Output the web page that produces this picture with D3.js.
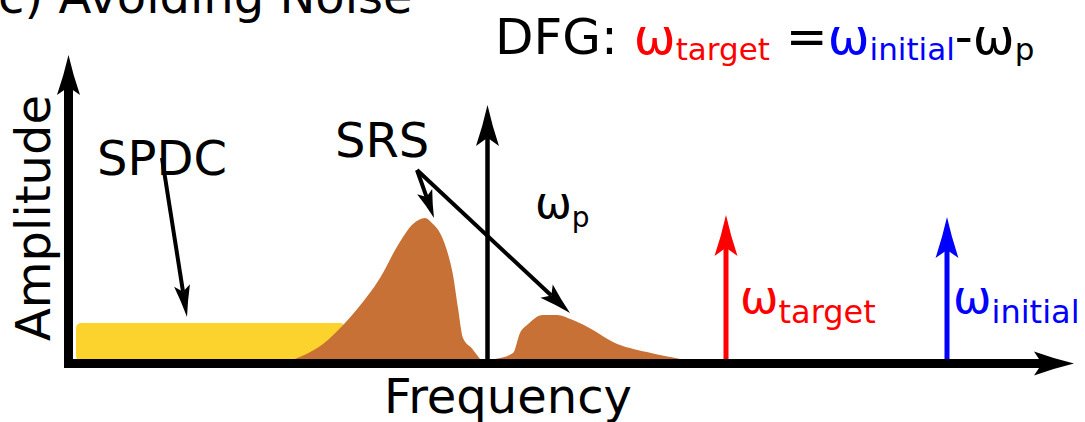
<!DOCTYPE html>
<html lang="en">
<head>
    <meta charset="UTF-8">
    <title>Avoiding Noise</title>
    <script src="https://d3js.org/d3.v7.min.js"></script>
    <style>
        body { margin: 0; background: #fff; }
        svg { display: block; }
        text { font-family: "DejaVu Sans", sans-serif; white-space: pre; }
    </style>
</head>
<body>
    <svg width="1085" height="422"></svg>
    <script>
        // spectrum data, frequency and amplitude in arbitrary units (0-100)
        const spdcFreq = [0.8, 27.7];
        const spdcAmp = [12];
        const stokesFreq = [22.7, 25.5, 27.7, 29.0, 31.2, 33.0, 34.5, 35.7, 36.5, 37.2, 38.0, 38.5, 39.0, 39.5, 40.4, 41.2];
        const stokesAmp = [0, 5, 12, 17, 27, 38, 45, 47, 45, 42, 35, 28, 17, 7, 3.5, 0];
        const antiFreq = [42.7, 44.5, 45.2, 45.9, 47.5, 48.9, 50.5, 52.5, 54.5, 57.9, 61.2];
        const antiAmp = [0, 2, 8.7, 11.3, 14.7, 14.7, 13, 9.7, 5.7, 2.3, 0];
        const lineNames = ["pump", "target", "initial"];
        const lineFreq = [41.95, 65.8, 87.9];
        const lineAmp = [84.7, 48, 47.3];
        const lineColors = ["#000000", "#ff0000", "#0000ff"];

        const svg = d3.select("svg");
        const x = d3.scaleLinear().domain([0, 100]).range([68, 1068]);
        const y = d3.scaleLinear().domain([0, 100]).range([359, 59]);

        // arrow head pointing along +x, tip at origin
        function headPath(L, W) {
            return `M0,0 Q${-L * 0.5},${-W * 0.2} ${-L},${-W / 2} L${-L * 0.8},0 L${-L},${W / 2} Q${-L * 0.5},${W * 0.2} 0,0 Z`;
        }
        function arrow(x1, y1, x2, y2, color, sw, L, W) {
            const a = Math.atan2(y2 - y1, x2 - x1);
            const ex = x2 - Math.cos(a) * L * 0.8, ey = y2 - Math.sin(a) * L * 0.8;
            svg.append("line")
                .attr("x1", x1).attr("y1", y1).attr("x2", ex).attr("y2", ey)
                .attr("stroke", color).attr("stroke-width", sw);
            svg.append("path")
                .attr("d", headPath(L, W))
                .attr("fill", color)
                .attr("transform", `translate(${x2},${y2}) rotate(${a * 180 / Math.PI})`);
        }

        // title (cut at top edge)
        svg.append("text").attr("x", -2).attr("y", 13).attr("font-size", 48).text("c) Avoiding Noise");

        // SPDC band
        svg.append("rect")
            .attr("x", x(spdcFreq[0])).attr("y", y(spdcAmp[0]))
            .attr("width", x(spdcFreq[1]) - x(spdcFreq[0]))
            .attr("height", y(0) - y(spdcAmp[0]) + 2)
            .attr("rx", 5)
            .attr("fill", "#fcd32c");

        // SRS peaks
        const area = d3.area()
            .x(d => x(d[0])).y0(y(0)).y1(d => y(d[1]))
            .curve(d3.curveMonotoneX);
        svg.append("path").attr("d", area(d3.zip(stokesFreq, stokesAmp))).attr("fill", "#c87137");
        svg.append("path").attr("d", area(d3.zip(antiFreq, antiAmp))).attr("fill", "#c87137");

        // spectral lines
        const lw = [4.5, 5, 5];
        lineNames.forEach((n, i) => {
            arrow(x(lineFreq[i]), y(0) + 1, x(lineFreq[i]), y(lineAmp[i]), lineColors[i], lw[i], 41, 23);
        });

        // axes
        arrow(68.5, 367.5, 68.5, 55, "#000", 9, 40, 23);
        arrow(64, 363.5, 1074, 363.5, "#000", 9, 40, 24);

        // annotation arrows
        arrow(162, 158, 187, 317, "#000", 4, 32, 16);
        arrow(417, 170, 570, 313, "#000", 4, 32, 18);
        arrow(417, 170, 434, 218, "#000", 4, 28, 16);

        // labels
        svg.append("text").attr("x", 97).attr("y", 175).attr("font-size", 48).text("SPDC");
        svg.append("text").attr("x", 335).attr("y", 157).attr("font-size", 48).text("SRS");
        svg.append("text").attr("text-anchor", "middle").attr("font-size", 48)
            .attr("transform", "translate(50,218) rotate(-90)").text("Amplitude");
        svg.append("text").attr("x", 508).attr("y", 413).attr("text-anchor", "middle")
            .attr("font-size", 48).text("Frequency");

        function omega(xp, yp, sub, color, fs, sfs, dy) {
            const t = svg.append("text").attr("x", xp).attr("y", yp).attr("fill", color);
            t.append("tspan").attr("font-size", fs).text("ω");
            t.append("tspan").attr("font-size", sfs).attr("dy", dy).text(sub);
        }
        omega(535, 218, "p", "#000", 44, 28, 9);
        omega(740, 313, "target", "#ff0000", 46, 32, 10);
        omega(953, 313, "initial", "#0000ff", 46, 32, 10);

        // DFG relation
        const eq = svg.append("text").attr("x", 495).attr("y", 54).attr("font-size", 50);
        eq.append("tspan").text("DFG: ");
        eq.append("tspan").attr("fill", "#ff0000").text("ω");
        eq.append("tspan").attr("fill", "#ff0000").attr("font-size", 31).attr("dy", 6).text("target");
        eq.append("tspan").attr("dy", -6).text(" =");
        eq.append("tspan").attr("fill", "#0000ff").text("ω");
        eq.append("tspan").attr("fill", "#0000ff").attr("font-size", 31).attr("dy", 6).text("initial");
        eq.append("tspan").attr("dy", -6).text("-ω");
        eq.append("tspan").attr("font-size", 31).attr("dy", 6).text("p");
    </script>
</body>
</html>
